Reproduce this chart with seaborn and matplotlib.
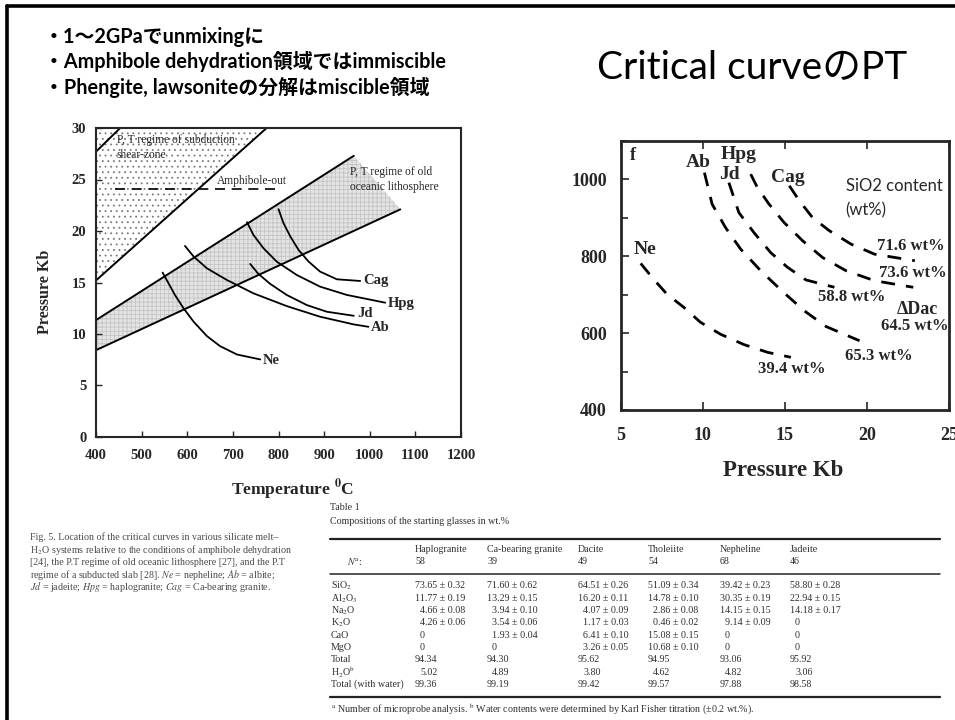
import matplotlib
matplotlib.use("Agg")
import matplotlib.pyplot as plt
import seaborn as sns
from matplotlib.lines import Line2D
from matplotlib.ticker import MultipleLocator

# ---------------- data: left panel (Temperature degC vs Pressure kb) ----------------
temp_ticks = [400, 500, 600, 700, 800, 900, 1000, 1100, 1200]
press_ticks = [0, 5, 10, 15, 20, 25, 30]

shear_upper_T = [400, 453]
shear_upper_P = [27.7, 30.0]
shear_lower_T = [400, 774]
shear_lower_P = [15.2, 30.0]
amph_out_T = [442, 800]
amph_out_P = [24.1, 24.1]
litho_upper_T = [400, 965]
litho_upper_P = [11.35, 27.3]
litho_lower_T = [400, 1067]
litho_lower_P = [8.43, 22.1]

ne_T = [546, 559, 573, 592, 614, 643, 672, 709, 760]
ne_P = [15.96, 14.92, 13.79, 12.49, 11.19, 9.80, 8.82, 8.01, 7.53]
ab_T = [595, 614, 643, 687, 745, 818, 891, 965, 997]
ab_P = [18.55, 17.52, 16.38, 15.24, 13.95, 12.71, 11.68, 10.93, 10.70]
jd_T = [738, 756, 782, 818, 862, 906, 965]
jd_P = [16.80, 15.83, 14.86, 13.79, 12.81, 12.16, 11.77]
hpg_T = [731, 745, 767, 796, 840, 891, 950, 1034]
hpg_P = [20.86, 19.62, 18.33, 17.03, 15.73, 14.60, 13.79, 13.04]
cag_T = [800, 811, 826, 844, 866, 891, 928, 979]
cag_P = [22.12, 20.76, 19.46, 18.16, 17.03, 16.06, 15.31, 15.15]

# ---------------- data: right panel (Pressure kb vs Temperature degC) ----------------
f_press_ticks = [5, 10, 15, 20, 25]
f_temp_ticks = [400, 600, 800, 1000]

f_ne_P = [6.22, 7.0, 7.82, 8.84, 9.86, 11.08, 12.51, 13.94, 15.37]
f_ne_T = [781, 740, 701, 667, 628, 597, 570, 550, 537]
f_ab_P = [10.10, 10.57, 11.39, 12.31, 13.53, 14.86, 16.18, 17.51, 19.55]
f_ab_T = [1017, 935, 874, 818, 762, 708, 658, 617, 580]
f_jd_P = [11.59, 12.20, 13.12, 14.14, 15.16, 16.29, 18.02]
f_jd_T = [991, 913, 861, 809, 771, 738, 719]
f_hpg_P = [12.92, 13.33, 14.04, 14.96, 16.08, 17.31, 18.73, 20.47, 22.82]
f_hpg_T = [1013, 978, 935, 887, 840, 796, 762, 736, 719]
f_cag_P = [15.27, 15.88, 16.69, 17.71, 19.04, 20.47, 22.92]
f_cag_T = [983, 944, 900, 866, 831, 805, 788]
sio2_labels = ["39.4 wt%", "65.3 wt%", "58.8 wt%", "73.6 wt%", "71.6 wt%", "64.5 wt%"]

# ---------------- data: table ----------------
table_columns = ["Haplogranite", "Ca-bearing granite", "Dacite", "Tholeiite", "Nepheline", "Jadeite"]
n_analyses = [58, 39, 49, 54, 68, 46]
row_labels = ["SiO$_2$", "Al$_2$O$_3$", "Na$_2$O", "K$_2$O", "CaO", "MgO", "Total",
              "H$_2$O$^{\\rm b}$", "Total (with water)"]
haplogranite = ["73.65 ± 0.32", "11.77 ± 0.19", "4.66 ± 0.08", "4.26 ± 0.06", "0", "0", "94.34", "5.02", "99.36"]
ca_granite = ["71.60 ± 0.62", "13.29 ± 0.15", "3.94 ± 0.10", "3.54 ± 0.06", "1.93 ± 0.04", "0", "94.30", "4.89", "99.19"]
dacite = ["64.51 ± 0.26", "16.20 ± 0.11", "4.07 ± 0.09", "1.17 ± 0.03", "6.41 ± 0.10", "3.26 ± 0.05", "95.62", "3.80", "99.42"]
tholeiite = ["51.09 ± 0.34", "14.78 ± 0.10", "2.86 ± 0.08", "0.46 ± 0.02", "15.08 ± 0.15", "10.68 ± 0.10", "94.95", "4.62", "99.57"]
nepheline = ["39.42 ± 0.23", "30.35 ± 0.19", "14.15 ± 0.15", "9.14 ± 0.09", "0", "0", "93.06", "4.82", "97.88"]
jadeite = ["58.80 ± 0.28", "22.94 ± 0.15", "14.18 ± 0.17", "0", "0", "0", "95.92", "3.06", "98.58"]

# ---------------- figure ----------------
sns.set_style("ticks")
plt.rcParams["font.family"] = ["Liberation Serif", "DejaVu Serif"]
plt.rcParams["mathtext.fontset"] = "stix"
plt.rcParams["hatch.linewidth"] = 0.6

W, H = 955, 720
fig = plt.figure(figsize=(W / 100, H / 100), dpi=100)
fig.patch.set_facecolor("white")


def fx(x):
    return x / W


def fy(y):
    return 1 - y / H


SANS = ["Lato", "Noto Sans CJK JP", "DejaVu Sans"]

# slide frame
fig.add_artist(Line2D([fx(7), fx(7)], [fy(720), fy(6)], transform=fig.transFigure, color="black", lw=2.6))
fig.add_artist(Line2D([fx(7), 1.0], [fy(6), fy(6)], transform=fig.transFigure, color="black", lw=2.6))

# bullets and title
bullets = ["・1〜2GPaでunmixingに",
           "・Amphibole dehydration領域ではimmiscible",
           "・Phengite, lawsoniteの分解はmiscible領域"]
for i, b in enumerate(bullets):
    fig.text(fx(44), fy(37 + 25 * i), b, family=SANS, weight="bold", fontsize=14.3,
             ha="left", va="center", color="black")
fig.text(fx(752), fy(67), "Critical curveのPT", family=SANS, fontsize=28,
         ha="center", va="center", color="black")

# ---------------- left panel ----------------
axL = fig.add_axes([fx(96), fy(437), (461 - 96) / W, (437 - 128) / H])
axL.set_xlim(400, 1200)
axL.set_ylim(0, 30)

# subduction shear-zone (stippled)
axL.fill(shear_lower_T + [shear_lower_T[0]], shear_lower_P + [30.0], facecolor="white",
         edgecolor="#7a7a7a", hatch="...", lw=0, zorder=0)
# old oceanic lithosphere band (shaded)
axL.fill(litho_upper_T + litho_lower_T[::-1], litho_upper_P + litho_lower_P[::-1],
         facecolor="#e4e4e4", edgecolor="#c4c4c4", hatch="++++", lw=0, zorder=0)

for tx, px in [(shear_upper_T, shear_upper_P), (shear_lower_T, shear_lower_P),
               (litho_upper_T, litho_upper_P), (litho_lower_T, litho_lower_P)]:
    sns.lineplot(x=tx, y=px, ax=axL, color="black", lw=1.4, sort=False, estimator=None)
sns.lineplot(x=amph_out_T, y=amph_out_P, ax=axL, color="black", lw=1.2, sort=False, estimator=None)
axL.lines[-1].set_dashes((6, 4))

for tx, px in [(ne_T, ne_P), (ab_T, ab_P), (jd_T, jd_P), (hpg_T, hpg_P), (cag_T, cag_P)]:
    sns.lineplot(x=tx, y=px, ax=axL, color="black", lw=1.3, sort=False, estimator=None)

left_labels = [("Ne", 766, 7.4), ("Ab", 1003, 10.6), ("Jd", 972, 12.0), ("Hpg", 1040, 13.0), ("Cag", 985, 15.2)]
for name, lx, ly in left_labels:
    axL.text(lx, ly, name, fontsize=10.5, weight="bold", ha="left", va="center")

axL.text(445, 28.8, "P, T regime of subduction", fontsize=8.3, ha="left", va="center")
axL.text(445, 27.4, "shear-zone", fontsize=8.3, ha="left", va="center")
axL.text(665, 24.9, "Amphibole-out", fontsize=8.3, ha="left", va="center")
axL.text(957, 25.7, "P, T regime of old", fontsize=8.3, ha="left", va="center")
axL.text(957, 24.3, "oceanic lithosphere", fontsize=8.3, ha="left", va="center")

axL.set_xticks(temp_ticks)
axL.set_yticks(press_ticks)
axL.tick_params(direction="in", length=4, width=1.0, labelsize=10.5, pad=9)
axL.tick_params(axis="y", pad=7)
for lab in axL.get_xticklabels() + axL.get_yticklabels():
    lab.set_fontweight("bold")
for s in axL.spines.values():
    s.set_linewidth(1.5)
    s.set_visible(True)
axL.set_xlabel("Temperature $^{\\mathbf{0}}$C", fontsize=12.5, weight="bold")
axL.xaxis.set_label_coords((293 - 96) / 365, -(490 - 437) / 309)
axL.xaxis.label.set_va("center")
axL.set_ylabel("Pressure Kb", fontsize=11.5, weight="bold")
axL.yaxis.set_label_coords(-(96 - 45) / 365, (437 - 292) / 309)
axL.yaxis.label.set_va("center")

# ---------------- right panel ----------------
axR = fig.add_axes([fx(620.7), fy(410), (949 - 620.7) / W, (410 - 140.7) / H])
axR.set_xlim(5, 25)
axR.set_ylim(400, 1100)
curves_f = [(f_ne_P, f_ne_T), (f_ab_P, f_ab_T), (f_jd_P, f_jd_T), (f_hpg_P, f_hpg_T), (f_cag_P, f_cag_T)]
for px, tx in curves_f:
    sns.lineplot(x=px, y=tx, ax=axR, color="black", lw=2.0, sort=False, estimator=None)
    axR.lines[-1].set_dashes((5, 4))

right_names = [("Ne", 6.5, 818), ("Ab", 9.75, 1043), ("Jd", 11.6, 1013), ("Hpg", 12.2, 1065), ("Cag", 15.2, 1004)]
for name, lx, ly in right_names:
    axR.text(lx, ly, name, fontsize=14, weight="bold", ha="center", va="center")
axR.text(5.55, 1061, "f", fontsize=13, weight="bold", ha="left", va="center")

sio2_pos = [(15.4, 506), (20.7, 541), (19.1, 693), (22.8, 756), (22.7, 827), (22.9, 619)]
for lab, (lx, ly) in zip(sio2_labels, sio2_pos):
    axR.text(lx, ly, lab, fontsize=12, weight="bold", ha="center", va="center")
axR.text(23.1, 660, "\u0394Dac", fontsize=13, weight="bold", ha="center", va="center")
axR.text(18.7, 983, "SiO2 content", family=SANS, fontsize=12, ha="left", va="center")
axR.text(18.7, 919, "(wt%)", family=SANS, fontsize=12, ha="left", va="center")

axR.set_xticks(f_press_ticks)
axR.set_yticks(f_temp_ticks)
axR.yaxis.set_minor_locator(MultipleLocator(100))
axR.tick_params(which="both", direction="in", top=True, width=1.2, labelsize=13)
axR.tick_params(which="major", length=6)
axR.tick_params(which="minor", length=5)
axR.tick_params(axis="x", pad=12)
axR.tick_params(axis="y", pad=10)
for lab in axR.get_xticklabels() + axR.get_yticklabels():
    lab.set_fontweight("bold")
for s in axR.spines.values():
    s.set_linewidth(2.0)
    s.set_visible(True)
axR.set_xlabel("Pressure Kb", fontsize=16.5, weight="bold")
axR.xaxis.set_label_coords((783 - 620.7) / 328.3, -(470 - 410) / 269.3)
axR.xaxis.label.set_va("center")

# ---------------- caption ----------------
cap_color = "#4a4a4a"
caption = ["Fig. 5. Location of the critical curves in various silicate melt–",
           "H$_2$O systems relative to the conditions of amphibole dehydration",
           "[24], the P.T regime of old oceanic lithosphere [27], and the P.T",
           "regime of a subducted slab [28]. $\\it{Ne}$ = nepheline; $\\it{Ab}$ = albite;",
           "$\\it{Jd}$ = jadeite; $\\it{Hpg}$ = haplogranite; $\\it{Cag}$ = Ca-bearing granite."]
for i, line in enumerate(caption):
    fig.text(fx(30), fy(537 + 12.6 * i), line, fontsize=7.2, color=cap_color, ha="left", va="center")

# ---------------- table ----------------
tc = "#2e2e2e"
fs = 7.2
fig.text(fx(330), fy(508), "Table 1", fontsize=fs, color=tc, ha="left", va="center")
fig.text(fx(330), fy(521), "Compositions of the starting glasses in wt.%", fontsize=fs, color=tc,
         ha="left", va="center")
fig.add_artist(Line2D([fx(330), fx(940)], [fy(539), fy(539)], transform=fig.transFigure, color="#222", lw=1.6))
fig.add_artist(Line2D([fx(330), fx(940)], [fy(574), fy(574)], transform=fig.transFigure, color="#222", lw=1.1))
fig.add_artist(Line2D([fx(330), fx(940)], [fy(697), fy(697)], transform=fig.transFigure, color="#222", lw=1.6))

col_x = [415, 487, 578, 648, 720, 790]
fig.text(fx(347), fy(562), "$N^{\\rm a}$:", fontsize=fs, color=tc, ha="left", va="center")
for cx, name, n in zip(col_x, table_columns, n_analyses):
    fig.text(fx(cx), fy(550), name, fontsize=fs, color=tc, ha="left", va="center")
    fig.text(fx(cx), fy(562), str(n), fontsize=fs, color=tc, ha="left", va="center")

row_y = [586 + 12.3 * i for i in range(len(row_labels))]
for ry, lab in zip(row_y, row_labels):
    fig.text(fx(331), fy(ry), lab, fontsize=fs, color=tc, ha="left", va="center")
digit_w = 5.0
for cx, col in zip(col_x, [haplogranite, ca_granite, dacite, tholeiite, nepheline, jadeite]):
    for ry, val in zip(row_y, col):
        nd = len(val.split(" ")[0].split(".")[0])
        fig.text(fx(cx + (2 - nd) * digit_w), fy(ry), val, fontsize=fs, color=tc, ha="left", va="center")

fig.text(fx(331), fy(709), "$^{\\rm a}$ Number of microprobe analysis. $^{\\rm b}$ Water contents were "
         "determined by Karl Fisher titration (±0.2 wt.%).", fontsize=fs, color=tc, ha="left", va="center")

fig.savefig("out.png", dpi=100, facecolor="white")
